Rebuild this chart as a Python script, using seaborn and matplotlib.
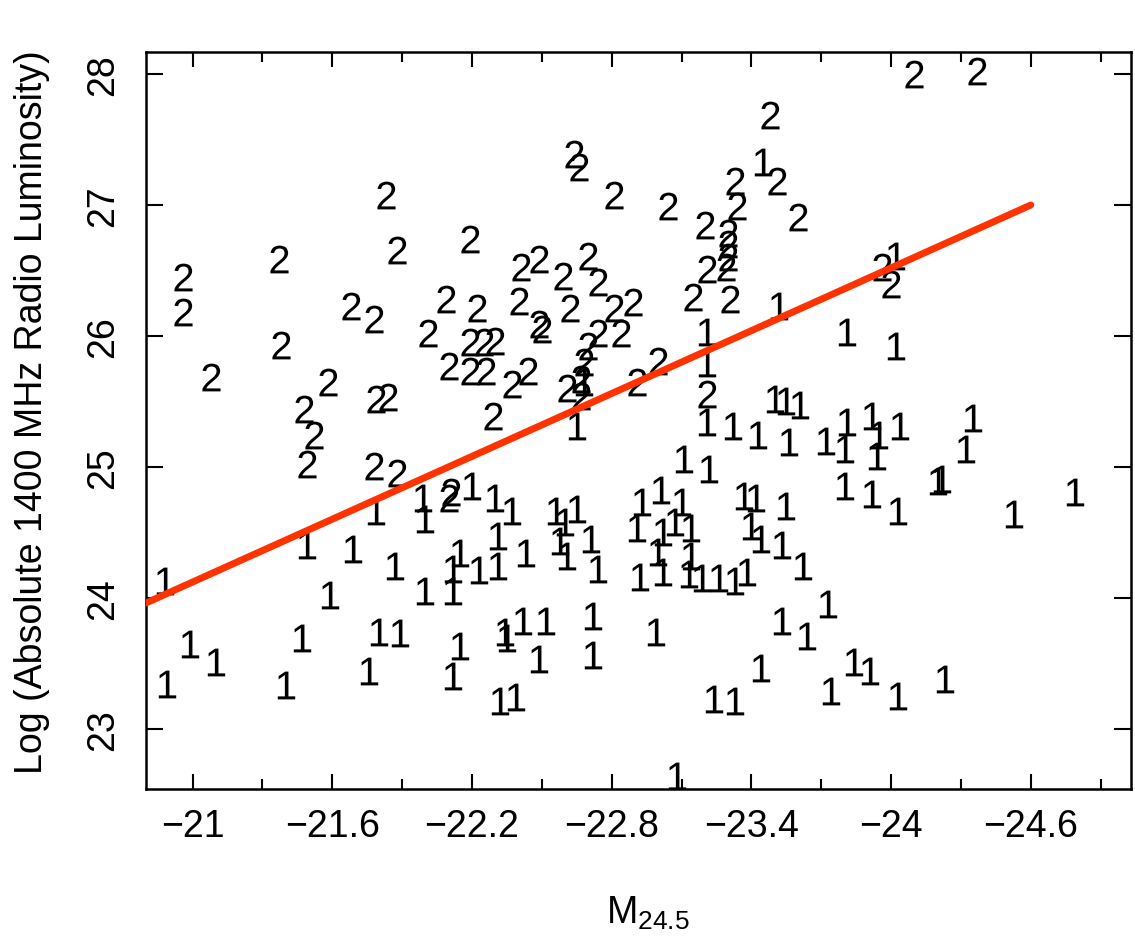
import matplotlib
matplotlib.use("Agg")
import matplotlib.pyplot as plt
import seaborn as sns
import pandas as pd

# ---- data ----
# class "1" sources (absolute magnitude M24.5, log radio luminosity)
ones_mag = [-23.45, -23.52, -23.21, -23.21, -23.50, -23.55, -23.61, -24.02, -23.81, -24.02,
            -20.88, -21.49, -21.69, -21.79, -21.99, -22.00, -22.20, -22.30, -21.87, -21.59,
            -22.00, -22.12, -22.15, -22.12, -22.23, -22.31, -22.31, -20.99, -21.10, -20.89,
            -21.47, -21.40, -21.80, -21.89, -21.76, -22.15, -22.12, -22.65, -22.68, -23.21,
            -23.32, -23.43, -23.56, -23.72, -23.11, -23.22, -22.37, -22.56, -22.65, -22.60,
            -22.58, -22.61, -22.43, -22.71, -22.74, -22.93, -23.01, -23.10, -22.91, -23.02,
            -23.07, -23.14, -23.14, -23.00, -22.92, -23.02, -23.13, -23.19, -23.26, -23.33,
            -23.38, -23.37, -23.42, -23.40, -23.44, -23.55, -23.53, -23.62, -22.34, -22.35,
            -22.42, -22.52, -22.49, -22.72, -22.72, -22.99, -22.32, -22.39, -23.24, -23.33,
            -23.44, -23.53, -23.64, -23.73, -23.74, -23.08, -23.81, -23.80, -23.92, -23.95,
            -23.94, -24.04, -24.35, -24.32, -23.80, -23.92, -24.03, -24.20, -24.22, -24.53,
            -24.79, -23.84, -23.91, -24.03, -24.23]
ones_lum = [27.33, 26.23, 26.03, 25.79, 25.52, 25.50, 25.47, 26.61, 26.03, 25.92,
            24.13, 24.40, 24.37, 24.66, 24.76, 24.60, 24.85, 24.76, 24.24, 24.02,
            24.05, 24.05, 24.34, 24.22, 24.21, 24.47, 24.24, 23.65, 23.51, 23.34,
            23.69, 23.33, 23.74, 23.73, 23.44, 23.63, 23.40, 25.31, 25.65, 25.34,
            25.31, 25.24, 25.19, 25.20, 25.06, 24.98, 24.66, 24.66, 24.68, 24.58,
            24.43, 24.32, 24.34, 24.45, 24.22, 24.73, 24.82, 24.73, 24.53, 24.50,
            24.58, 24.53, 24.32, 24.35, 24.16, 24.20, 24.18, 24.15, 24.15, 24.13,
            24.20, 24.78, 24.76, 24.55, 24.45, 24.70, 24.40, 24.24, 23.74, 23.69,
            23.82, 23.82, 23.53, 23.86, 23.56, 23.74, 23.21, 23.24, 23.23, 23.21,
            23.46, 23.82, 23.71, 23.95, 23.29, 22.64, 25.34, 25.14, 25.39, 25.24,
            25.08, 25.31, 25.37, 25.14, 24.85, 24.79, 24.66, 24.89, 24.91, 24.64,
            24.81, 23.51, 23.44, 23.25, 23.38]

# class "2" sources
twos_mag = [-20.96, -20.96, -21.08, -21.37, -21.38, -21.58, -21.48, -21.52, -21.49, -21.68,
            -21.78, -21.83, -21.88, -21.79, -21.84, -21.78, -21.88, -22.09, -22.22, -22.19,
            -22.01, -22.19, -22.25, -22.30, -22.10, -22.19, -22.26, -22.37, -22.44, -22.50,
            -22.29, -22.10, -22.11, -22.40, -22.49, -22.41, -22.49, -22.59, -22.70, -22.74,
            -22.62, -22.81, -22.89, -22.70, -22.74, -22.84, -22.68, -22.67, -22.61, -22.67,
            -22.91, -23.00, -22.64, -22.66, -22.81, -23.04, -23.20, -23.30, -23.30, -23.30,
            -23.21, -23.29, -23.15, -23.31, -23.34, -23.33, -23.51, -23.48, -23.60, -23.21,
            -23.96, -24.00, -24.10, -24.37]
twos_lum = [26.45, 26.18, 25.69, 26.59, 25.93, 25.65, 25.44, 25.24, 25.02, 26.23,
            26.13, 27.08, 26.66, 25.52, 25.53, 25.01, 24.95, 26.28, 26.21, 26.74,
            26.02, 25.95, 25.95, 25.96, 25.77, 25.73, 25.73, 25.63, 25.73, 26.05,
            25.39, 24.76, 24.81, 26.27, 26.09, 26.53, 26.59, 26.46, 26.61, 26.41,
            26.21, 26.21, 26.26, 25.92, 26.02, 26.02, 25.80, 25.67, 25.60, 25.54,
            25.65, 25.81, 27.39, 27.29, 27.08, 26.99, 26.85, 26.79, 26.70, 26.60,
            26.51, 26.53, 26.30, 26.28, 26.99, 27.18, 27.18, 27.69, 26.91, 25.56,
            26.53, 26.40, 28.00, 28.02]

# fitted relation (red line)
fit_mag = [-20.8, -24.6]
fit_lum = [23.96, 27.00]

x_tick_values = [-21, -21.6, -22.2, -22.8, -23.4, -24, -24.6]
x_tick_labels = ["\u221221", "\u221221.6", "\u221222.2", "\u221222.8", "\u221223.4", "\u221224", "\u221224.6"]
x_minor_values = [-21.3, -21.9, -22.5, -23.1, -23.7, -24.3, -24.9]
y_tick_values = [23, 24, 25, 26, 27, 28]
y_tick_labels = ["23", "24", "25", "26", "27", "28"]

x_label = r"$\mathregular{M_{24.5}}$"
y_label = "Log (Absolute 1400 MHz Radio Luminosity)"

# ---- styling ----
sns.set_theme(style="ticks")
plt.rcParams["font.family"] = ["Liberation Sans", "DejaVu Sans"]
plt.rcParams["mathtext.fontset"] = "custom"
plt.rcParams["mathtext.rm"] = "Liberation Sans"
plt.rcParams["mathtext.it"] = "Liberation Sans"
plt.rcParams["axes.labelcolor"] = "black"
plt.rcParams["text.color"] = "black"

fig = plt.figure(figsize=(11.35, 9.37), dpi=100)
ax = fig.add_axes([0.1286, 0.157, 0.8678, 0.7866])

df1 = pd.DataFrame({"mag": ones_mag, "lum": ones_lum})
df2 = pd.DataFrame({"mag": twos_mag, "lum": twos_lum})
dfl = pd.DataFrame({"mag": fit_mag, "lum": fit_lum})

sns.scatterplot(data=df1, x="mag", y="lum", marker=r"$\mathregular{1}$", s=400,
                color="black", linewidth=0, ax=ax, legend=False)
sns.scatterplot(data=df2, x="mag", y="lum", marker=r"$\mathregular{2}$", s=400,
                color="black", linewidth=0, ax=ax, legend=False)
sns.lineplot(data=dfl, x="mag", y="lum", color="#ff3300", linewidth=5, ax=ax,
             legend=False, zorder=3)

ax.set_xlim(-20.8, -25.03)
ax.set_ylim(22.54, 28.17)

ax.set_xticks(x_tick_values)
ax.set_xticklabels(x_tick_labels)
ax.set_xticks(x_minor_values, minor=True)
ax.set_yticks(y_tick_values)
ax.set_yticklabels(y_tick_labels, rotation=90, va="center")

ax.tick_params(axis="both", which="both", direction="in", top=True, right=True,
               colors="black", width=1.5)
ax.tick_params(axis="x", which="major", length=11, labelsize=27, pad=14)
ax.tick_params(axis="x", which="minor", length=7)
ax.tick_params(axis="y", which="major", length=12, labelsize=27, pad=18)

for sp in ax.spines.values():
    sp.set_color("black")
    sp.set_linewidth(1.8)

ax.set_xlabel(x_label, fontsize=27, color="black")
ax.set_ylabel(y_label, fontsize=27, color="black")
ax.xaxis.set_label_coords(0.51, -0.142)
ax.yaxis.set_label_coords(-0.097, 0.512)

fig.savefig("out.png", dpi=100, facecolor="white")
